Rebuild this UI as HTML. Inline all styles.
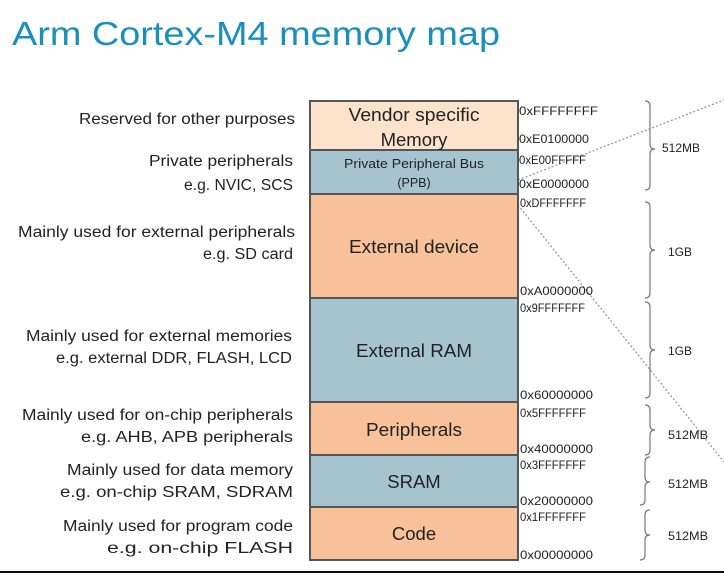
<!DOCTYPE html>
<html><head><meta charset="utf-8"><style>
html,body{margin:0;padding:0;background:#fff;}
svg{display:block;font-family:"Liberation Sans",sans-serif;}
</style></head><body>
<svg width="724" height="573" viewBox="0 0 724 573" xmlns="http://www.w3.org/2000/svg">
<text x="12" y="45" font-size="33" fill="#1a8fbf" textLength="488" lengthAdjust="spacingAndGlyphs">Arm Cortex-M4 memory map</text>

<line x1="518" y1="180" x2="724" y2="100" stroke="#999" stroke-width="1.3" stroke-dasharray="2,2"/>
<line x1="518" y1="205" x2="724" y2="462" stroke="#999" stroke-width="1.3" stroke-dasharray="2,2"/>

<g stroke="#555" stroke-width="2">
<rect x="310" y="101" width="208" height="49" fill="#fde2cc"/>
<rect x="310" y="150" width="208" height="44" fill="#a6c4d0"/>
<rect x="310" y="194" width="208" height="104" fill="#f9c199"/>
<rect x="310" y="298" width="208" height="104" fill="#a6c4d0"/>
<rect x="310" y="402" width="208" height="53" fill="#f9c199"/>
<rect x="310" y="455" width="208" height="52" fill="#a6c4d0"/>
<rect x="310" y="507" width="208" height="53" fill="#f9c199"/>
</g>
<g fill="#222" text-anchor="middle" font-size="18.5">
<text x="414" y="121" textLength="131" lengthAdjust="spacingAndGlyphs">Vendor specific</text>
<text x="414" y="146">Memory</text>
<text x="414" y="168" font-size="12.5" textLength="140" lengthAdjust="spacingAndGlyphs">Private Peripheral Bus</text>
<text x="414" y="187" font-size="12.5">(PPB)</text>
<text x="414" y="253" textLength="130" lengthAdjust="spacingAndGlyphs">External device</text>
<text x="414" y="357" textLength="116" lengthAdjust="spacingAndGlyphs">External RAM</text>
<text x="414" y="436" textLength="96" lengthAdjust="spacingAndGlyphs">Peripherals</text>
<text x="414" y="488">SRAM</text>
<text x="414" y="540">Code</text>
</g>

<g fill="#222" font-size="15.5" text-anchor="end" lengthAdjust="spacingAndGlyphs">
<text x="295" y="124" textLength="216" lengthAdjust="spacingAndGlyphs">Reserved for other purposes</text>
<text x="293" y="166" textLength="144" lengthAdjust="spacingAndGlyphs">Private peripherals</text>
<text x="293" y="190" textLength="109" lengthAdjust="spacingAndGlyphs">e.g. NVIC, SCS</text>
<text x="295" y="237" textLength="277" lengthAdjust="spacingAndGlyphs">Mainly used for external peripherals</text>
<text x="293" y="259" textLength="90" lengthAdjust="spacingAndGlyphs">e.g. SD card</text>
<text x="292" y="341" textLength="266" lengthAdjust="spacingAndGlyphs">Mainly used for external memories</text>
<text x="292" y="363" textLength="236" lengthAdjust="spacingAndGlyphs">e.g. external DDR, FLASH, LCD</text>
<text x="293" y="420" textLength="271" lengthAdjust="spacingAndGlyphs">Mainly used for on-chip peripherals</text>
<text x="293" y="442" textLength="212" lengthAdjust="spacingAndGlyphs">e.g. AHB, APB peripherals</text>
<text x="293" y="475" textLength="226" lengthAdjust="spacingAndGlyphs">Mainly used for data memory</text>
<text x="293" y="497" textLength="233" lengthAdjust="spacingAndGlyphs">e.g. on-chip SRAM, SDRAM</text>
<text x="293" y="531" textLength="230" lengthAdjust="spacingAndGlyphs">Mainly used for program code</text>
<text x="293" y="553" textLength="186" lengthAdjust="spacingAndGlyphs">e.g. on-chip FLASH</text>
</g>

<g fill="#222" font-size="12">
<text x="519" y="115" textLength="79" lengthAdjust="spacingAndGlyphs">0xFFFFFFFF</text>
<text x="519" y="143" textLength="70" lengthAdjust="spacingAndGlyphs">0xE0100000</text>
<text x="519" y="164" textLength="67" lengthAdjust="spacingAndGlyphs">0xE00FFFFF</text>
<text x="519" y="188" textLength="70" lengthAdjust="spacingAndGlyphs">0xE0000000</text>
<text x="520" y="207" textLength="66" lengthAdjust="spacingAndGlyphs">0xDFFFFFFF</text>
<text x="520" y="295" textLength="73" lengthAdjust="spacingAndGlyphs">0xA0000000</text>
<text x="520" y="312" textLength="65" lengthAdjust="spacingAndGlyphs">0x9FFFFFFF</text>
<text x="520" y="399" textLength="73" lengthAdjust="spacingAndGlyphs">0x60000000</text>
<text x="520" y="417" textLength="66" lengthAdjust="spacingAndGlyphs">0x5FFFFFFF</text>
<text x="520" y="453" textLength="73" lengthAdjust="spacingAndGlyphs">0x40000000</text>
<text x="520" y="469" textLength="66" lengthAdjust="spacingAndGlyphs">0x3FFFFFFF</text>
<text x="520" y="505" textLength="73" lengthAdjust="spacingAndGlyphs">0x20000000</text>
<text x="520" y="521" textLength="66" lengthAdjust="spacingAndGlyphs">0x1FFFFFFF</text>
<text x="520" y="559" textLength="73" lengthAdjust="spacingAndGlyphs">0x00000000</text>
</g>

<g fill="none" stroke="#777" stroke-width="1.2">
<path d="M645,101 q5,0 5,5 v38 q0,5 5,5 q-5,0 -5,5 v31 q0,5 -5,5"/>
<path d="M645,202 q5,0 5,5 v38 q0,5 5,5 q-5,0 -5,5 v38 q0,5 -5,5"/>
<path d="M645,302 q5,0 5,5 v38 q0,5 5,5 q-5,0 -5,5 v38 q0,5 -5,5"/>
<path d="M645,405 q5,0 5,5 v15 q0,5 5,5 q-5,0 -5,5 v15 q0,5 -5,5"/>
<path d="M650,457 q-5,0 -5,5 v15 q0,5 5,5 q-5,0 -5,5 v13 q0,5 -5,5"/>
<path d="M650,510 q-5,0 -5,5 v15 q0,5 5,5 q-5,0 -5,5 v15 q0,5 -5,5"/>
</g>
<g fill="#222" font-size="12">
<text x="662" y="152" textLength="38" lengthAdjust="spacingAndGlyphs">512MB</text>
<text x="668" y="256">1GB</text>
<text x="668" y="355">1GB</text>
<text x="668" y="439" textLength="40" lengthAdjust="spacingAndGlyphs">512MB</text>
<text x="668" y="488" textLength="40" lengthAdjust="spacingAndGlyphs">512MB</text>
<text x="668" y="540" textLength="40" lengthAdjust="spacingAndGlyphs">512MB</text>
</g>
<rect x="0" y="571" width="724" height="2" fill="#111"/>
</svg>
</body></html>
